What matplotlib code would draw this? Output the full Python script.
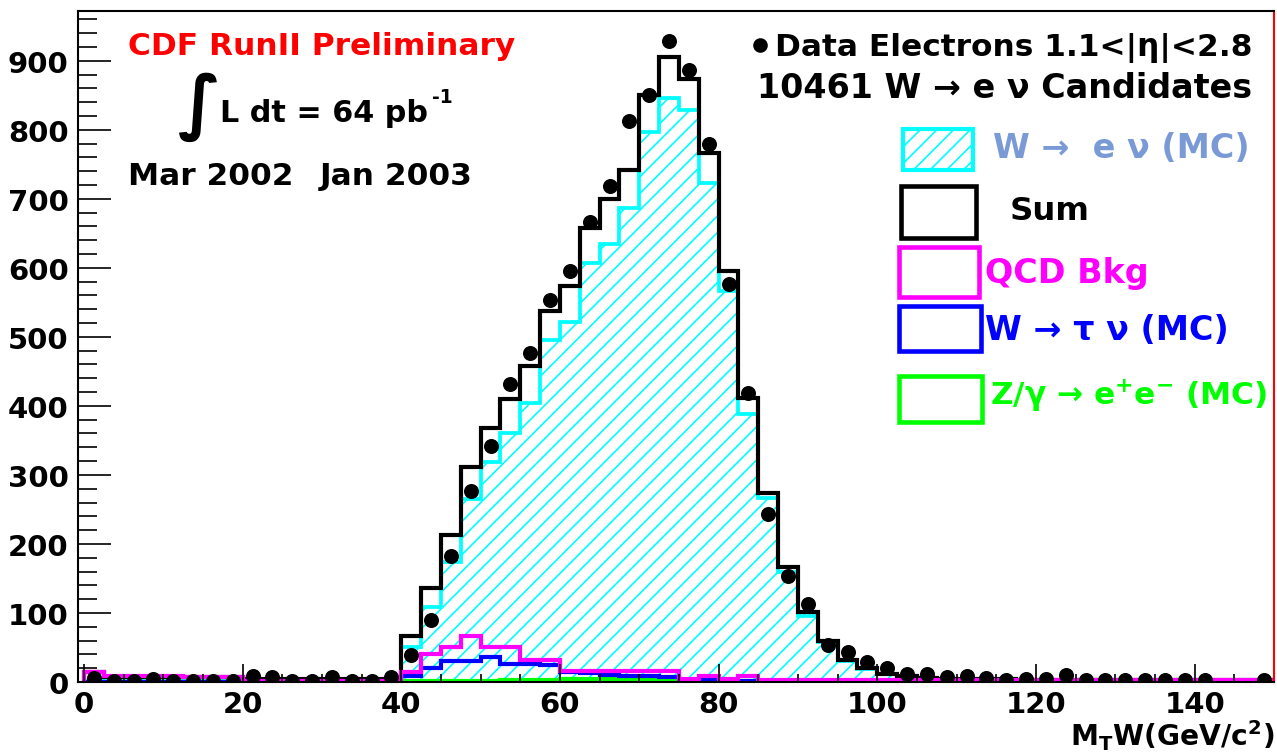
import numpy as np
import matplotlib
matplotlib.use('Agg')
import matplotlib.pyplot as plt
import matplotlib.transforms as mtransforms
from matplotlib.patches import Rectangle
from matplotlib.lines import Line2D
from matplotlib.ticker import MultipleLocator

W, H, DPI = 1277, 753, 150

# 60 bins of 2.5 GeV from 0 to 150
bin_width = 2.5
n_bins = 60

data_counts = [6, 2, 2, 5, 2, 2, 2, 2, 9, 7, 2, 2, 7, 2, 2, 7,
               39, 90, 182, 277, 342, 432, 477, 554, 595, 666,
               718, 813, 851, 929, 886, 780, 577, 418, 243, 154,
               113, 53, 44, 29, 20, 12, 12, 7, 9, 6,
               3, 4, 4, 10, 3, 3, 3, 3, 3, 3, 3, 0, 0, 3]

sum_mc = [15, 7, 7, 7, 7, 7, 7, 7, 5, 5, 5, 5, 5, 5, 5, 5,
          66, 136, 213, 312, 368, 410, 458, 538, 574, 657,
          699, 741, 850, 906, 874, 767, 595, 411, 274, 167,
          101, 60, 32, 21, 12, 8, 6, 5, 4, 4,
          4, 3, 3, 3, 3, 3, 3, 3, 3, 3, 3, 3, 3, 3]

w_enu = [1, 1, 1, 1, 1, 1, 1, 1, 1, 1, 1, 1, 1, 1, 1, 1,
         51, 109, 174, 265, 318, 360, 404, 496, 522, 607,
         635, 686, 797, 846, 828, 723, 566, 388, 267, 159,
         96, 58, 31, 19, 12, 6, 4, 2, 1, 1,
         1, 1, 1, 1, 1, 0, 0, 0, 0, 0, 0, 0, 0, 0]

qcd_bkg = [15, 8, 8, 8, 8, 7, 7, 7, 1, 1, 1, 1, 1, 1, 1, 1,
           15, 41, 50, 66, 50, 50, 32, 32, 16, 16,
           16, 16, 16, 16, 4, 8, 4, 8, 3, 3,
           3, 3, 3, 3, 3, 3, 3, 3, 3, 3,
           3, 3, 3, 3, 3, 3, 3, 3, 3, 3, 3, 3, 3, 3]

w_taunu = [0, 0, 0, 0, 0, 0, 0, 0, 0, 0, 0, 0, 0, 0, 0, 0,
           9, 21, 31, 31, 36, 26, 26, 24, 14, 13,
           10, 9, 8, 7, 3, 3, 2, 2, 1, 1,
           1, 1, 1, 1, 1, 1, 1, 1, 1, 1,
           1, 1, 1, 1, 1, 1, 1, 1, 1, 1, 1, 1, 1, 1]

z_ee = [0, 0, 0, 0, 0, 0, 0, 0, 0, 0, 0, 0, 0, 0.5, 0.5, 0.5,
        1, 1, 1, 1, 1, 3, 3, 3, 5, 5,
        5, 5, 5, 5, 2, 2, 4, 1, 1, 1,
        0.5, 0.5, 0.5, 0.5, 0.5, 0.5, 0.5, 0.5, 0.5, 0.5,
        0.5, 0.5, 0.5, 0.5, 0.5, 0.5, 0.5, 0.5, 0.5, 0.5, 0.5, 0.5, 0.5, 0.5]

edges = np.arange(n_bins + 1) * bin_width
centers = edges[:-1] + bin_width / 2

plt.rcParams['font.family'] = ['DejaVu Sans']
plt.rcParams['font.weight'] = 'bold'
plt.rcParams['mathtext.default'] = 'bf'
plt.rcParams['hatch.linewidth'] = 0.8

fig = plt.figure(figsize=(W / DPI, H / DPI), dpi=DPI)
ax = fig.add_axes([78 / W, 1 - 683 / H, (1274 - 78) / W, (683 - 12) / H])

# W -> e nu MC, hatched
ax.stairs(w_enu, edges, fill=True, facecolor='none', edgecolor='#00ffff',
          hatch='///', linewidth=0)
ax.stairs(w_enu, edges, color='#00ffff', linewidth=1.8)
ax.stairs(sum_mc, edges, color='black', linewidth=2.0)
ax.stairs(z_ee, edges, color='#00ff00', linewidth=2.0)
ax.stairs(w_taunu, edges, color='#0000ff', linewidth=2.0)
ax.stairs(qcd_bkg, edges, color='#ff00ff', linewidth=2.0)

data = np.array(data_counts)
mask = data > 0
ax.plot(centers[mask], data[mask], 'o', color='black', ms=6.2, zorder=10)

ax.set_xlim(-0.75, 150)
ax.set_ylim(0, 972)
ax.xaxis.set_major_locator(MultipleLocator(20))
ax.xaxis.set_minor_locator(MultipleLocator(5))
ax.yaxis.set_major_locator(MultipleLocator(100))
ax.yaxis.set_minor_locator(MultipleLocator(20))
ax.tick_params(which='both', direction='in', top=False, right=False)
ax.tick_params(axis='y', which='major', length=16, width=0.8, pad=4.5, labelsize=14)
ax.tick_params(axis='y', which='minor', length=9, width=0.8)
ax.tick_params(axis='x', which='major', length=8.5, width=0.8, pad=4, labelsize=14)
ax.tick_params(axis='x', which='minor', length=4, width=0.8)
for s in ax.spines.values():
    s.set_linewidth(1.0)
ax.spines['right'].set_color('red')

ax.set_xlabel(r'M$_{T}$W(GeV/c$^{2}$)', fontsize=13.5, fontweight='bold',
              loc='right', va='baseline')
ax.xaxis.set_label_coords(1.0, -0.0935)

# pixel coordinates of the picture, origin top left
px = mtransforms.Affine2D().scale(1 / W, -1 / H).translate(0, 1) + fig.transFigure

fig.text(128, 55, 'CDF RunII Preliminary', color='red', fontsize=15, transform=px)
fig.text(178, 107, '\u222b', fontsize=34, va='center', transform=px)
fig.text(220, 122, 'L dt = 64 pb', fontsize=14.5, transform=px)
fig.text(432, 103, '-1', fontsize=9, transform=px)
fig.text(128, 185, 'Mar 2002', fontsize=15, transform=px)
fig.text(320, 185, 'Jan 2003', fontsize=15, transform=px)

fig.add_artist(Line2D([760], [46], marker='o', ms=6, color='black', transform=px))
fig.text(775, 56, 'Data Electrons 1.1<|\u03b7|<2.8', fontsize=15, transform=px)
fig.text(757, 98, '10461 W \u2192 e \u03bd Candidates', fontsize=16, transform=px)

# legend
fig.add_artist(Rectangle((903, 130), 70, 41, facecolor='none', edgecolor='#00ffff',
                         hatch='///', linewidth=2, transform=px))
fig.add_artist(Rectangle((901, 187), 75, 52, facecolor='none', edgecolor='black',
                         linewidth=2.2, transform=px))
fig.add_artist(Rectangle((899, 248), 80, 50, facecolor='none', edgecolor='#ff00ff',
                         linewidth=2.2, transform=px))
fig.add_artist(Rectangle((899, 307), 82, 45, facecolor='none', edgecolor='#0000ff',
                         linewidth=2.2, transform=px))
fig.add_artist(Rectangle((899, 377), 83, 46, facecolor='none', edgecolor='#00ff00',
                         linewidth=2.2, transform=px))

fig.text(993, 158, 'W \u2192  e \u03bd (MC)', color='#7a9ad6', fontsize=16, transform=px)
fig.text(1010, 220, 'Sum', color='black', fontsize=15.5, transform=px)
fig.text(985, 283, 'QCD Bkg', color='#ff00ff', fontsize=16, transform=px)
fig.text(985, 340, 'W \u2192 \u03c4 \u03bd (MC)', color='#0000ff', fontsize=16, transform=px)
fig.text(990, 405, 'Z/\u03b3 \u2192 e$^{+}$e$^{-}$ (MC)', color='#00ff00', fontsize=15,
         transform=px)

fig.savefig('out.png', dpi=DPI)
